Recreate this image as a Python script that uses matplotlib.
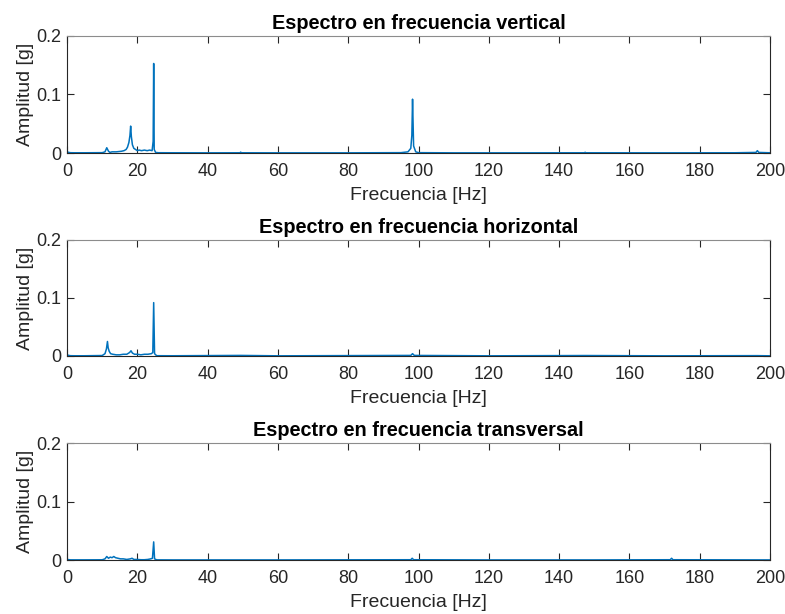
import matplotlib
matplotlib.use('Agg')
import matplotlib.pyplot as plt

# espectro vertical (frecuencia [Hz], amplitud [g])
freq_v = [0, 0.5, 1, 2, 5, 10, 10.8, 11.3, 11.8, 12.2, 12.8, 14, 15.5, 16.2, 16.8,
          17.2, 17.6, 17.9, 18.1, 18.3, 18.6, 19.0, 19.5, 20.0, 20.5, 21.2, 22, 22.8, 23.5, 24.2,
          24.5, 24.65, 24.8, 25.2, 26, 30, 40, 49.2, 49.4, 49.6, 60, 80, 95, 97, 97.8,
          98.1, 98.3, 98.6, 99.2, 100, 110, 130, 147.2, 147.4, 147.6, 170, 190, 196, 196.4, 196.8, 200]
amp_v = [0.002, 0.001, 0.0005, 0.0004, 0.0004, 0.0006, 0.002, 0.009, 0.003, 0.001, 0.002, 0.002, 0.003, 0.004, 0.006,
         0.010, 0.018, 0.030, 0.046, 0.028, 0.014, 0.008, 0.006, 0.004, 0.005, 0.004, 0.005, 0.004, 0.005, 0.004,
         0.02, 0.153, 0.006, 0.001, 0.0005, 0.0004, 0.0003, 0.0004, 0.0015, 0.0004, 0.0003, 0.0003, 0.0006, 0.002, 0.008,
         0.030, 0.092, 0.012, 0.002, 0.0006, 0.0003, 0.0003, 0.0004, 0.0012, 0.0004, 0.0003, 0.0004, 0.001, 0.004, 0.001, 0.0004]

# espectro horizontal
freq_h = [0, 0.5, 1, 2, 5, 10, 10.8, 11.2, 11.5, 11.7, 12.0, 12.4, 13, 14, 15,
          16, 17, 17.8, 18.2, 18.6, 19.2, 20, 21, 22, 23, 24, 24.4, 24.65, 24.9, 25.5,
          30, 49.4, 60, 97.8, 98.3, 98.8, 120, 147.4, 170, 196.4, 200]
amp_h = [0.002, 0.001, 0.0005, 0.0004, 0.0004, 0.0008, 0.004, 0.012, 0.025, 0.014, 0.008, 0.004, 0.003, 0.002, 0.002,
         0.003, 0.003, 0.006, 0.009, 0.005, 0.003, 0.003, 0.002, 0.003, 0.003, 0.004, 0.006, 0.092, 0.004, 0.0005,
         0.0004, 0.001, 0.0003, 0.001, 0.004, 0.001, 0.0003, 0.0008, 0.0003, 0.0006, 0.0003]

# espectro transversal
freq_t = [0, 1, 5, 10, 10.8, 11.3, 11.8, 12.3, 12.8, 13.3, 13.8, 14.5, 15.2, 16, 17,
          18, 18.5, 19, 20, 21, 22, 23, 23.8, 24.3, 24.65, 24.9, 25.5, 30, 60, 97.8,
          98.2, 98.6, 120, 150, 171.6, 172, 172.4, 200]
amp_t = [0.001, 0.0003, 0.0003, 0.0004, 0.002, 0.006, 0.003, 0.005, 0.004, 0.006, 0.004, 0.003, 0.002, 0.002, 0.001,
         0.002, 0.003, 0.001, 0.001, 0.0005, 0.0005, 0.001, 0.002, 0.003, 0.031, 0.002, 0.0003, 0.0002, 0.0002, 0.0005,
         0.003, 0.0005, 0.0002, 0.0002, 0.0005, 0.003, 0.0005, 0.0002]

titles = ['Espectro en frecuencia vertical', 'Espectro en frecuencia horizontal',
          'Espectro en frecuencia transversal']
x_ticks = [0, 20, 40, 60, 80, 100, 120, 140, 160, 180, 200]
y_ticks = [0, 0.1, 0.2]
y_ticklabels = ['0', '0.1', '0.2']

plt.rcParams['font.family'] = ['Liberation Sans', 'DejaVu Sans']

fig = plt.figure(figsize=(7.85, 6.14), dpi=100)
axes_pos = [[0.0854, 0.7508, 0.8955, 0.1906],
            [0.0854, 0.4202, 0.8955, 0.1890],
            [0.0854, 0.0879, 0.8955, 0.1906]]
series = [(freq_v, amp_v), (freq_h, amp_h), (freq_t, amp_t)]
dark = '#262626'

for pos, (f, a), t in zip(axes_pos, series, titles):
    ax = fig.add_axes(pos)
    ax.plot(f, a, color='#0072BD', linewidth=1.1)
    ax.set_xlim(0, 200)
    ax.set_ylim(0, 0.2)
    ax.set_xticks(x_ticks)
    ax.set_yticks(y_ticks)
    ax.set_yticklabels(y_ticklabels)
    ax.tick_params(direction='in', top=True, right=True, length=5, width=0.8,
                   labelsize=13, colors=dark)
    ax.tick_params(axis='x', pad=7)
    ax.tick_params(axis='y', pad=4)
    for s in ax.spines.values():
        s.set_color(dark)
        s.set_linewidth(0.8)
    ax.spines['top'].set_color('#8c8c8c')
    ax.set_title(t, fontsize=14.3, fontweight='bold', pad=5)
    ax.set_xlabel('Frecuencia [Hz]', fontsize=14, color=dark, labelpad=5)
    ax.set_ylabel('Amplitud [g]', fontsize=14, color=dark, labelpad=2)

fig.savefig('out.png', dpi=100)
